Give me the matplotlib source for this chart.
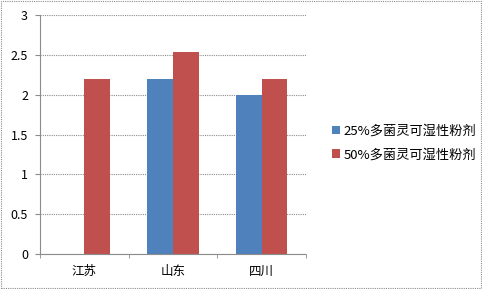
import matplotlib.pyplot as plt
from matplotlib.patches import Rectangle
import numpy as np

plt.rcParams['font.family'] = ['Noto Sans CJK SC', 'DejaVu Sans']

provinces = ["江苏", "山东", "四川"]
series_names = ["25%多菌灵可湿性粉剂", "50%多菌灵可湿性粉剂"]
vals_25 = [0, 2.2, 2.0]
vals_50 = [2.2, 2.53, 2.2]
colors = ["#4F81BD", "#C0504D"]

fig = plt.figure(figsize=(4.82, 2.89), dpi=100)
ax = fig.add_axes([0.083, 0.121, 0.552, 0.827])

x = np.arange(len(provinces))
w = 0.29
b1 = ax.bar(x - w / 2, vals_25, w, color=colors[0], label=series_names[0])
b2 = ax.bar(x + w / 2, vals_50, w, color=colors[1], label=series_names[1])

ax.set_xlim(-0.5, 2.5)
ax.set_ylim(0, 3)
ax.set_yticks(np.arange(0, 3.01, 0.5))
ax.set_yticklabels(["0", "0.5", "1", "1.5", "2", "2.5", "3"])
ax.yaxis.grid(True, color="#8c8c8c", linestyle=(0, (1, 1)), linewidth=0.8)
ax.set_axisbelow(True)

ax.set_xticks(x)
ax.set_xticklabels(provinces)
ax.set_xticks([-0.5, 0.5, 1.5, 2.5], minor=True)
ax.tick_params(axis="x", which="major", length=0, pad=8, labelsize=9)
ax.tick_params(axis="x", which="minor", length=3, color="#8c8c8c")
ax.tick_params(axis="y", length=3.6, color="#8c8c8c", labelsize=9, pad=5)

for s in ["top", "right"]:
    ax.spines[s].set_visible(False)
for s in ["left", "bottom"]:
    ax.spines[s].set_color("#8c8c8c")
    ax.spines[s].set_linestyle((0, (1, 1)))
    ax.spines[s].set_linewidth(0.8)

leg = fig.legend(handles=[b1, b2], loc="center left", bbox_to_anchor=(0.665, 0.505),
                 frameon=False, fontsize=9.5, handlelength=0.6, handleheight=0.6,
                 handletextpad=0.25, labelspacing=0.8)

fig.patches.append(Rectangle((0.002, 0.003), 0.995, 0.993, transform=fig.transFigure,
                             fill=False, edgecolor="#8c8c8c", linestyle=(0, (1, 1)),
                             linewidth=0.8))

fig.savefig("out.png", dpi=100)
